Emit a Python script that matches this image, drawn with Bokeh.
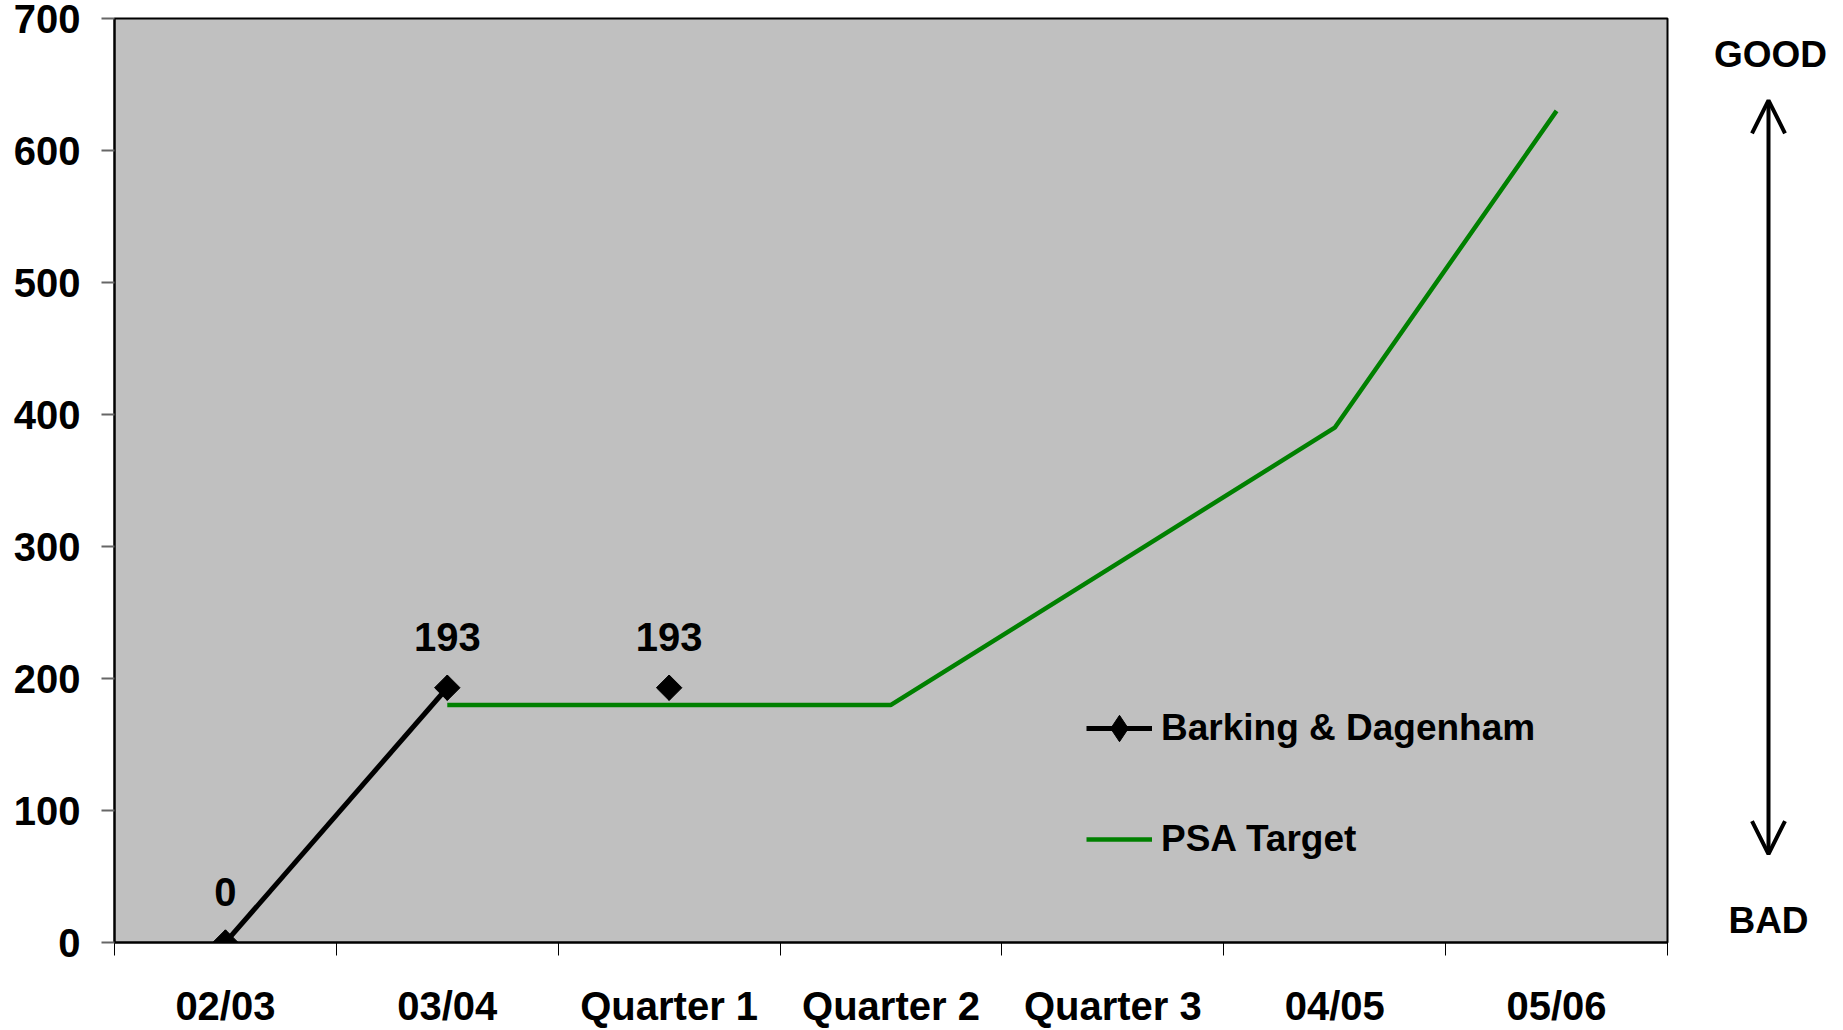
import math
from bokeh.plotting import figure
from bokeh.layouts import row
from bokeh.models import (Range1d, FixedTicker, Legend, LegendItem, LabelSet, Label,
                          ColumnDataSource, Arrow, OpenHead)
from bokeh.core.properties import value
from bokeh.embed import file_html
from bokeh.resources import INLINE

# ---- data ----
categories = ["02/03", "03/04", "Quarter 1", "Quarter 2", "Quarter 3", "04/05", "05/06"]
barking = [0, 193, 193]                      # Barking & Dagenham actuals
barking_labels = ["0", "193", "193"]
psa_target = [float("nan"), 180, 180, 180, 285, 390, 630]
y_ticks = [0, 100, 200, 300, 400, 500, 600, 700]

FONT = "Liberation Sans"
x_pos = [i + 0.5 for i in range(len(categories))]

W, H = 1843, 1030
MAIN_W = 1677

p = figure(width=MAIN_W, height=H, output_backend="svg", toolbar_location=None,
           x_range=Range1d(0, len(categories)), y_range=Range1d(0, 700),
           min_border_left=114, min_border_top=18, min_border_right=10, min_border_bottom=85)
p.background_fill_color = "#C0C0C0"
p.border_fill_color = "white"
p.outline_line_color = "black"
p.outline_line_width = 2
p.grid.visible = False

# x axis: labels at category centres, tick marks at category boundaries
xa = p.xaxis[0]
xa.ticker = FixedTicker(ticks=x_pos, minor_ticks=list(range(len(categories) + 1)))
xa.major_label_overrides = {x: c for x, c in zip(x_pos, categories)}
xa.major_tick_in = 0
xa.major_tick_out = 0
xa.minor_tick_in = 0
xa.minor_tick_out = 13
xa.minor_tick_line_color = "black"
xa.minor_tick_line_width = 1
xa.axis_line_color = "black"
xa.axis_line_width = 2
xa.major_label_text_font = FONT
xa.major_label_text_font_style = "bold"
xa.major_label_text_font_size = "40px"
xa.major_label_text_color = "black"
xa.major_label_standoff = 28

ya = p.yaxis[0]
ya.ticker = FixedTicker(ticks=y_ticks, minor_ticks=[])
ya.major_tick_in = 0
ya.major_tick_out = 13
ya.major_tick_line_color = "#666666"
ya.major_tick_line_width = 2
ya.axis_line_color = "black"
ya.axis_line_width = 2
ya.major_label_text_font = FONT
ya.major_label_text_font_style = "bold"
ya.major_label_text_font_size = "40px"
ya.major_label_text_color = "black"
ya.major_label_standoff = 21

# series
green = "#008000"
psa_r = p.line(x_pos, psa_target, line_color=green, line_width=4.5)
bd_line = p.line(x_pos[:2], barking[:2], line_color="black", line_width=5)
# diamond swatch for the legend, hidden beneath the rotated-square markers
bd_key = p.scatter(x_pos[:len(barking)], barking, marker="diamond", size=25,
                   fill_color="black", line_color="black")
bd_pts = p.scatter(x_pos[:len(barking)], barking, marker="square", size=18, angle=math.pi / 4,
                   fill_color="black", line_color="black")

src = ColumnDataSource(dict(x=x_pos[:len(barking)], y=barking, t=barking_labels))
p.add_layout(LabelSet(x="x", y="y", text="t", source=src, y_offset=37,
                      text_align="center", text_baseline="alphabetic",
                      text_font=value(FONT), text_font_style="bold", text_font_size="40px",
                      text_color="black"))

legend = Legend(items=[LegendItem(label="Barking & Dagenham", renderers=[bd_line, bd_key]),
                       LegendItem(label="PSA Target", renderers=[psa_r])],
                location=(972, 70), orientation="vertical",
                padding=0, margin=0, spacing=45, glyph_width=66, glyph_height=66,
                label_height=66, label_standoff=9,
                label_text_font=FONT, label_text_font_style="bold",
                label_text_font_size="37px", label_text_color="black",
                border_line_color=None, background_fill_alpha=0)
p.add_layout(legend, "center")

# GOOD / BAD indicator to the right of the plot (shares the value axis)
side = figure(width=W - MAIN_W, height=H, output_backend="svg", toolbar_location=None,
              x_range=Range1d(MAIN_W, W), y_range=p.y_range,
              x_axis_type=None, y_axis_type=None,
              min_border=0, min_border_left=0, min_border_right=0,
              min_border_top=18, min_border_bottom=85)
side.outline_line_color = None
side.grid.visible = False
side.background_fill_color = "white"
side.border_fill_color = "white"

AX = 1768
side.add_layout(Arrow(start=OpenHead(size=33, line_width=4, line_color="black"),
                      end=OpenHead(size=33, line_width=4, line_color="black"),
                      x_start=AX, y_start=67, x_end=AX, y_end=638,
                      line_width=4, line_color="black"))
side.add_layout(Label(x=AX + 2, y=673, text="GOOD", text_align="center", text_baseline="alphabetic",
                      text_font=FONT, text_font_style="bold", text_font_size="37px",
                      text_color="black"))
side.add_layout(Label(x=AX, y=17, text="BAD", text_align="center", text_baseline="alphabetic",
                      text_font=FONT, text_font_style="bold", text_font_size="37px",
                      text_color="black"))

layout = row(p, side, spacing=0)
open("out.html", "w").write(file_html(layout, INLINE))
